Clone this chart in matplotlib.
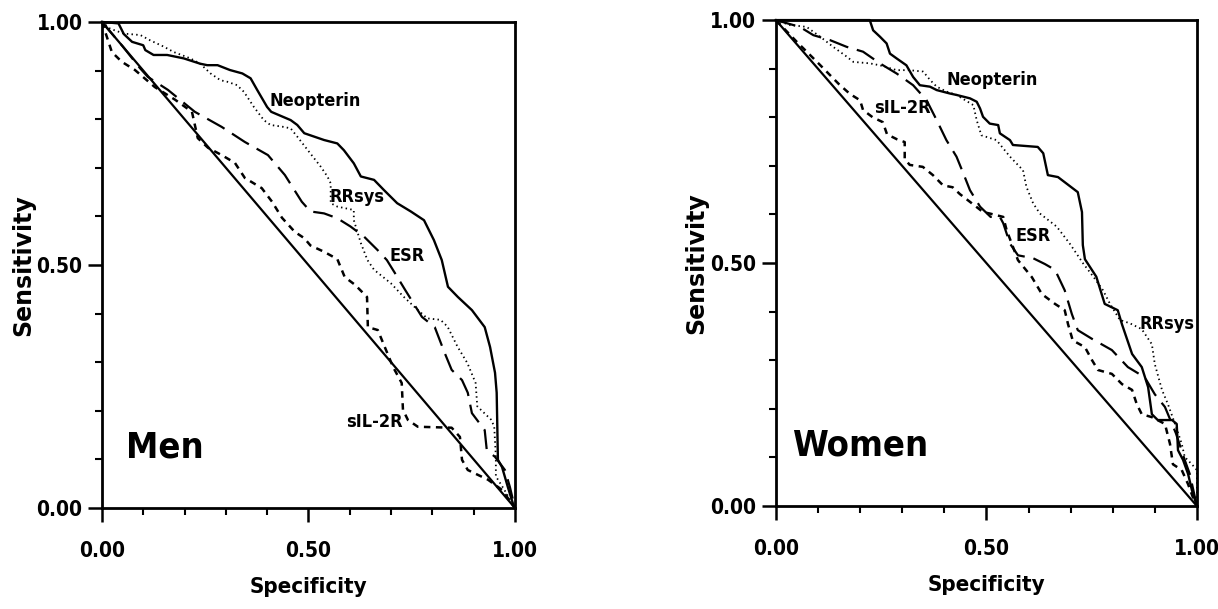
import matplotlib
matplotlib.use("Agg")
import matplotlib.pyplot as plt
from matplotlib import font_manager
from matplotlib.ticker import MultipleLocator

# the original uses a condensed bold face; take the narrowest one that is installed
installed = {(f.name, f.stretch) for f in font_manager.fontManager.ttflist}
if any(n == "Liberation Sans Narrow" for n, s in installed):
    FAMILY, STRETCH = "Liberation Sans Narrow", "normal"
elif any(n == "DejaVu Sans" and "condensed" in str(s) for n, s in installed):
    FAMILY, STRETCH = "DejaVu Sans", "condensed"
else:
    FAMILY, STRETCH = "Liberation Sans", "normal"

plt.rcParams["font.family"] = [FAMILY, "DejaVu Sans"]
plt.rcParams["font.stretch"] = STRETCH
plt.rcParams["font.weight"] = "bold"

# ---- Men: curves (specificity, sensitivity)
men_neo_x = [0, 0.04, 0.053, 0.073, 0.10, 0.105, 0.125, 0.158, 0.198, 0.238, 0.255, 0.28, 0.31, 0.34,
             0.36, 0.376, 0.40, 0.41, 0.457, 0.473, 0.49, 0.538, 0.57, 0.586, 0.61, 0.627, 0.659, 0.683,
             0.715, 0.748, 0.78, 0.804, 0.823, 0.838, 0.862, 0.896, 0.927, 0.94, 0.952, 0.956, 0.959,
             0.969, 0.983, 0.995, 1.0]
men_neo_y = [1.0, 0.997, 0.975, 0.959, 0.952, 0.942, 0.932, 0.932, 0.925, 0.914, 0.911, 0.911, 0.901, 0.894,
             0.884, 0.860, 0.825, 0.815, 0.798, 0.788, 0.771, 0.757, 0.750, 0.736, 0.709, 0.682, 0.675, 0.654,
             0.627, 0.610, 0.592, 0.551, 0.51, 0.455, 0.434, 0.407, 0.372, 0.331, 0.278, 0.237, 0.099,
             0.084, 0.043, 0.01, 0.0]

men_rr_x = [0, 0.02, 0.053, 0.093, 0.117, 0.15, 0.174, 0.214, 0.238, 0.263, 0.287, 0.303, 0.327, 0.344,
            0.368, 0.392, 0.408, 0.44, 0.457, 0.473, 0.505, 0.53, 0.546, 0.554, 0.554, 0.57, 0.61, 0.61,
            0.627, 0.643, 0.659, 0.70, 0.73, 0.764, 0.788, 0.82, 0.837, 0.861, 0.885, 0.905, 0.909, 0.942,
            0.95, 0.954, 0.954, 0.974, 1.0]
men_rr_y = [1.0, 0.986, 0.976, 0.973, 0.962, 0.949, 0.938, 0.925, 0.914, 0.894, 0.880, 0.877, 0.870, 0.856,
            0.825, 0.798, 0.788, 0.784, 0.781, 0.764, 0.729, 0.702, 0.682, 0.668, 0.627, 0.620, 0.613, 0.592,
            0.545, 0.510, 0.490, 0.462, 0.435, 0.408, 0.390, 0.387, 0.373, 0.332, 0.298, 0.257, 0.209, 0.182,
            0.168, 0.106, 0.065, 0.038, 0.0]

men_esr_x = [0, 0.05, 0.092, 0.111, 0.16, 0.225, 0.29, 0.346, 0.402, 0.443, 0.484, 0.505, 0.538, 0.57,
             0.602, 0.635, 0.667, 0.69, 0.709, 0.734, 0.775, 0.806, 0.83, 0.847, 0.872, 0.886, 0.896,
             0.927, 0.932, 0.952, 0.976, 0.988, 1.0]
men_esr_y = [1.0, 0.95, 0.905, 0.887, 0.86, 0.815, 0.784, 0.753, 0.726, 0.685, 0.63, 0.61, 0.606, 0.596,
             0.579, 0.558, 0.531, 0.51, 0.484, 0.449, 0.393, 0.372, 0.319, 0.284, 0.263, 0.237, 0.195,
             0.16, 0.119, 0.105, 0.078, 0.043, 0.0]

men_il_x = [0, 0.024, 0.048, 0.08, 0.128, 0.177, 0.218, 0.225, 0.232, 0.257, 0.29, 0.322, 0.346, 0.387,
            0.412, 0.436, 0.467, 0.49, 0.505, 0.538, 0.57, 0.588, 0.613, 0.642, 0.644, 0.668, 0.685, 0.705,
            0.726, 0.729, 0.741, 0.765, 0.847, 0.867, 0.872, 0.886, 0.935, 0.969, 1.0]
men_il_y = [1.0, 0.938, 0.918, 0.901, 0.866, 0.84, 0.815, 0.788, 0.761, 0.741, 0.726, 0.71, 0.679, 0.658,
            0.63, 0.597, 0.568, 0.555, 0.54, 0.527, 0.512, 0.475, 0.459, 0.434, 0.372, 0.366, 0.331, 0.29,
            0.257, 0.202, 0.181, 0.167, 0.165, 0.146, 0.099, 0.078, 0.058, 0.037, 0.0]

# ---- Women
wom_neo_x = [0, 0.223, 0.231, 0.247, 0.263, 0.271, 0.287, 0.31, 0.326, 0.342, 0.366, 0.382, 0.413, 0.429,
             0.461, 0.477, 0.485, 0.492, 0.508, 0.528, 0.532, 0.556, 0.563, 0.622, 0.635, 0.646, 0.67,
             0.717, 0.727, 0.729, 0.734, 0.746, 0.761, 0.781, 0.812, 0.822, 0.846, 0.869, 0.884, 0.893,
             0.907, 0.941, 0.952, 0.955, 0.967, 0.979, 0.988, 1.0]
wom_neo_y = [1.0, 1.0, 0.979, 0.966, 0.952, 0.931, 0.921, 0.907, 0.883, 0.866, 0.863, 0.856, 0.849, 0.846,
             0.839, 0.832, 0.818, 0.801, 0.787, 0.784, 0.767, 0.753, 0.743, 0.739, 0.726, 0.681, 0.677,
             0.646, 0.605, 0.537, 0.508, 0.492, 0.472, 0.416, 0.403, 0.374, 0.313, 0.286, 0.245, 0.189,
             0.177, 0.177, 0.169, 0.115, 0.095, 0.066, 0.033, 0.0]

wom_rr_x = [0, 0.033, 0.073, 0.105, 0.136, 0.168, 0.184, 0.223, 0.247, 0.287, 0.318, 0.35, 0.366, 0.382,
            0.405, 0.429, 0.469, 0.477, 0.488, 0.524, 0.556, 0.587, 0.595, 0.611, 0.627, 0.667, 0.698,
            0.73, 0.754, 0.777, 0.793, 0.817, 0.841, 0.869, 0.893, 0.90, 0.917, 0.931, 0.948, 0.964,
            0.971, 0.988, 1.0, 1.0]
wom_rr_y = [1.0, 0.99, 0.986, 0.966, 0.945, 0.925, 0.914, 0.911, 0.907, 0.897, 0.897, 0.894, 0.877, 0.863,
            0.853, 0.846, 0.825, 0.794, 0.763, 0.753, 0.719, 0.691, 0.657, 0.623, 0.602, 0.575, 0.54,
            0.499, 0.472, 0.444, 0.417, 0.383, 0.376, 0.364, 0.333, 0.292, 0.239, 0.21, 0.169, 0.128,
            0.101, 0.086, 0.074, 0.0]

wom_esr_x = [0, 0.057, 0.089, 0.128, 0.168, 0.207, 0.247, 0.287, 0.326, 0.358, 0.382, 0.405, 0.429, 0.445,
             0.461, 0.485, 0.51, 0.532, 0.54, 0.556, 0.575, 0.611, 0.639, 0.663, 0.686, 0.703, 0.717,
             0.751, 0.798, 0.836, 0.876, 0.90, 0.924, 0.95, 0.971, 0.983, 0.995, 1.0]
wom_esr_y = [1.0, 0.986, 0.969, 0.959, 0.945, 0.935, 0.911, 0.89, 0.866, 0.835, 0.794, 0.753, 0.719, 0.685,
             0.65, 0.616, 0.595, 0.595, 0.582, 0.54, 0.516, 0.51, 0.498, 0.486, 0.444, 0.395, 0.362,
             0.344, 0.321, 0.286, 0.265, 0.23, 0.204, 0.15, 0.095, 0.066, 0.019, 0.0]

wom_il_x = [0, 0.05, 0.10, 0.15, 0.176, 0.2, 0.207, 0.23, 0.254, 0.264, 0.287, 0.306, 0.306, 0.318, 0.349,
            0.373, 0.397, 0.42, 0.437, 0.461, 0.492, 0.508, 0.54, 0.548, 0.575, 0.608, 0.632, 0.663, 0.686,
            0.694, 0.705, 0.734, 0.751, 0.765, 0.798, 0.822, 0.846, 0.857, 0.869, 0.893, 0.924, 0.936,
            0.943, 0.964, 0.979, 0.99, 1.0]
wom_il_y = [1.0, 0.955, 0.912, 0.868, 0.848, 0.835, 0.815, 0.80, 0.79, 0.765, 0.755, 0.749, 0.714, 0.702,
            0.698, 0.681, 0.66, 0.656, 0.642, 0.626, 0.605, 0.602, 0.595, 0.568, 0.506, 0.471, 0.436,
            0.416, 0.403, 0.374, 0.341, 0.327, 0.30, 0.28, 0.272, 0.251, 0.239, 0.21, 0.189, 0.183, 0.169,
            0.128, 0.086, 0.074, 0.045, 0.019, 0.0]

ticks_major = [0.0, 0.5, 1.0]
tick_labels = ["0.00", "0.50", "1.00"]

# curve name, x, y for each panel
men_labels = [("Neopterin", 0.516, 0.837), ("RRsys", 0.617, 0.64), ("ESR", 0.738, 0.519),
              ("sIL-2R", 0.659, 0.177)]
wom_labels = [("Neopterin", 0.513, 0.877), ("sIL-2R", 0.30, 0.819), ("ESR", 0.61, 0.555),
              ("RRsys", 0.929, 0.374)]

DASH_ESR = (0, (9, 4))
DASH_IL = (0, (2.6, 2.2))
DOT_RR = (0, (0.8, 1.8))


def draw_panel(ax, curves, labels, group, group_x, ylab_x):
    neo, rr, esr, il = curves
    ax.plot([0, 1], [1, 0], color="black", lw=1.6, clip_on=False)
    ax.plot(neo[0], neo[1], color="black", lw=1.7, ls="-", clip_on=False)
    ax.plot(rr[0], rr[1], color="black", lw=1.3, ls=DOT_RR, clip_on=False)
    ax.plot(esr[0], esr[1], color="black", lw=1.6, ls=DASH_ESR, clip_on=False)
    ax.plot(il[0], il[1], color="black", lw=1.8, ls=DASH_IL, clip_on=False)
    for name, x, y in labels:
        ax.text(x, y, name, ha="center", va="center", fontsize=13, fontweight="bold")
    ax.text(group_x, 0.125, group, ha="center", va="center", fontsize=26, fontweight="bold")

    ax.set_xlim(0, 1)
    ax.set_ylim(0, 1)
    ax.set_xticks(ticks_major)
    ax.set_xticklabels(tick_labels)
    ax.set_yticks(ticks_major)
    ax.set_yticklabels(tick_labels)
    ax.xaxis.set_minor_locator(MultipleLocator(0.1))
    ax.yaxis.set_minor_locator(MultipleLocator(0.1))
    ax.tick_params(which="major", direction="out", length=10, width=1.8, labelsize=15)
    ax.tick_params(which="minor", direction="out", length=5, width=1.5)
    ax.tick_params(axis="x", which="major", pad=14)
    ax.tick_params(axis="y", which="major", pad=4)
    for s in ax.spines.values():
        s.set_linewidth(2)
    ax.set_xlabel("Specificity", fontsize=16, fontweight="bold")
    ax.xaxis.set_label_coords(0.5, -0.142)
    # the y label is set in a wide (not condensed) bold face in the original
    ax.set_ylabel("Sensitivity", fontsize=17, fontweight="bold", va="center",
                  fontstretch="normal", family="DejaVu Sans")
    ax.yaxis.set_label_coords(ylab_x, 0.5)


fig = plt.figure(figsize=(12.18, 6.09), dpi=100)
ax1 = fig.add_axes([0.0837, 0.166, 0.339, 0.798])
ax2 = fig.add_axes([0.637, 0.169, 0.3457, 0.798])

draw_panel(ax1, [(men_neo_x, men_neo_y), (men_rr_x, men_rr_y), (men_esr_x, men_esr_y),
                 (men_il_x, men_il_y)], men_labels, "Men", 0.152, -0.19)
draw_panel(ax2, [(wom_neo_x, wom_neo_y), (wom_rr_x, wom_rr_y), (wom_esr_x, wom_esr_y),
                 (wom_il_x, wom_il_y)], wom_labels, "Women", 0.20, -0.19)

fig.savefig("out.png", dpi=100, facecolor="white")
